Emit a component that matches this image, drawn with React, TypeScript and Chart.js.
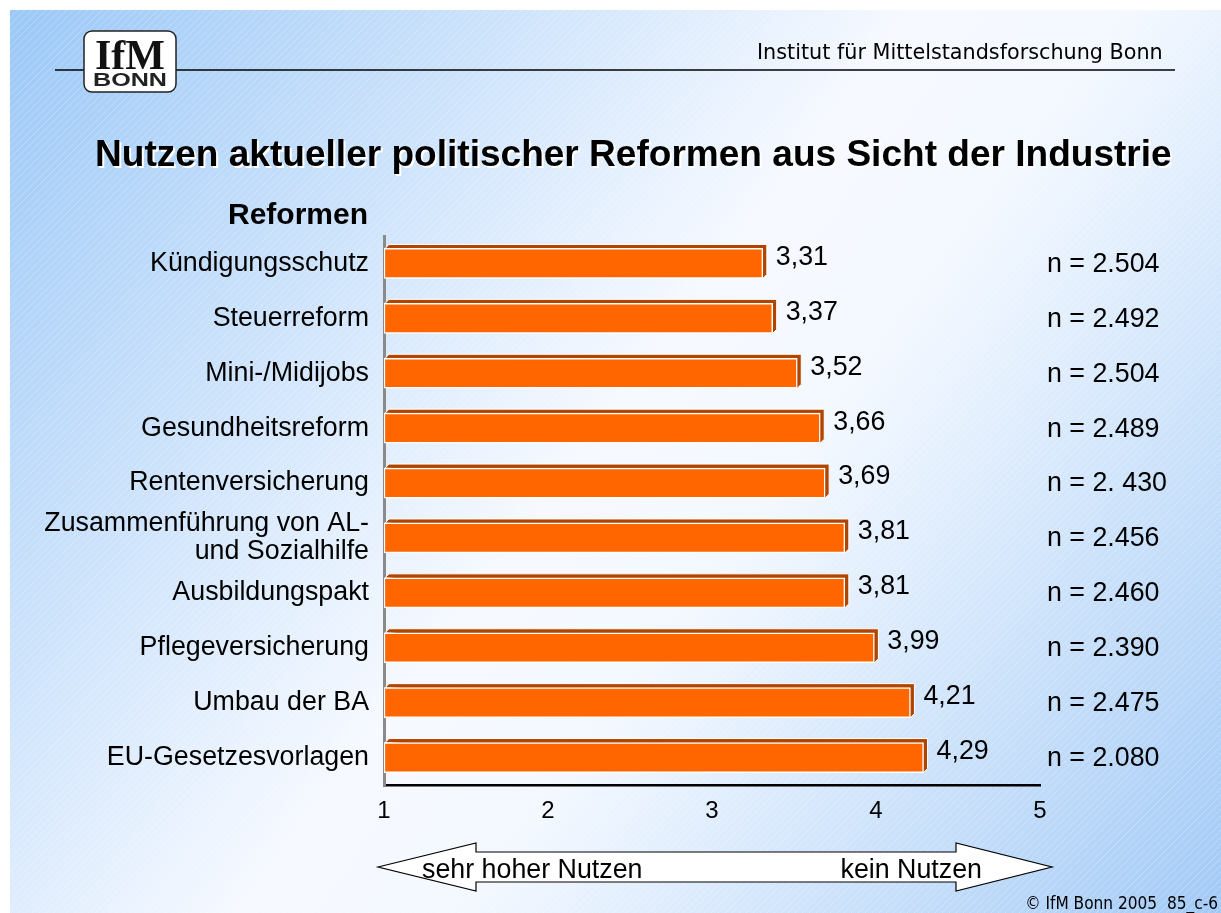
import React, { useEffect, useRef } from 'react';
import { Chart, registerables } from 'chart.js';

Chart.register(...registerables);

const categories: (string | string[])[] = [
  'Kündigungsschutz',
  'Steuerreform',
  'Mini-/Midijobs',
  'Gesundheitsreform',
  'Rentenversicherung',
  ['Zusammenführung von AL-', 'und Sozialhilfe'],
  'Ausbildungspakt',
  'Pflegeversicherung',
  'Umbau der BA',
  'EU-Gesetzesvorlagen',
];
const values = [3.31, 3.37, 3.52, 3.66, 3.69, 3.81, 3.81, 3.99, 4.21, 4.29];
const sampleSizes = [
  'n = 2.504',
  'n = 2.492',
  'n = 2.504',
  'n = 2.489',
  'n = 2. 430',
  'n = 2.456',
  'n = 2.460',
  'n = 2.390',
  'n = 2.475',
  'n = 2.080',
];
const axisMin = 1;
const axisMax = 5;
const axisStep = 1;

const headerText = 'Institut für Mittelstandsforschung Bonn';
const titleText = 'Nutzen aktueller politischer Reformen aus Sicht der Industrie';
const axisTitleText = 'Reformen';
const leftArrowText = 'sehr hoher Nutzen';
const rightArrowText = 'kein Nutzen';
const footerText = '© IfM Bonn 2005  85_c-6';

const SANS = '"Liberation Sans", Arial, Helvetica, sans-serif';
const VERD = '"DejaVu Sans", Verdana, Tahoma, sans-serif';
const VERD_C = '"DejaVu Sans Condensed", "DejaVu Sans", sans-serif';
const SERIF = '"Liberation Serif", "DejaVu Serif", serif';
const LABEL_SIZE = 26.8;

function fitSize(ctx: CanvasRenderingContext2D, text: string, weight: string, family: string, target: number) {
  ctx.font = `${weight} 100px ${family}`;
  const w = ctx.measureText(text).width;
  return (100 * target) / w;
}

const backgroundPlugin = {
  id: 'slideBackground',
  beforeDraw(chart: any) {
    const { ctx, width, height } = chart;
    ctx.save();
    ctx.fillStyle = '#ffffff';
    ctx.fillRect(0, 0, width, height);
    const g = ctx.createLinearGradient(10, 10, width, height);
    g.addColorStop(0, '#9bc8f7');
    g.addColorStop(0.48, '#f6f9ff');
    g.addColorStop(0.6, '#f3f8ff');
    g.addColorStop(1, '#a2caf6');
    ctx.fillStyle = g;
    ctx.fillRect(10, 10, width - 10, height - 10);
    ctx.beginPath();
    ctx.rect(10, 10, width - 10, height - 10);
    ctx.clip();
    ctx.strokeStyle = 'rgba(255,255,255,0.25)';
    ctx.lineWidth = 1;
    for (let k = -height; k < width; k += 7) {
      ctx.beginPath();
      ctx.moveTo(k, height);
      ctx.lineTo(k + height, 0);
      ctx.stroke();
    }
    ctx.restore();
  },
};

const extrusionPlugin = {
  id: 'barExtrusion',
  beforeDatasetsDraw(chart: any) {
    const { ctx, chartArea } = chart;
    const meta = chart.getDatasetMeta(0);
    const d = 4;
    ctx.save();
    meta.data.forEach((bar: any) => {
      const { x, y, base, height } = bar.getProps(['x', 'y', 'base', 'height'], true);
      const left = Math.max(base, chartArea.left);
      const top = y - height / 2;
      const bottom = y + height / 2;
      ctx.beginPath();
      ctx.moveTo(left + 1, top);
      ctx.lineTo(left + 1 + d, top - d);
      ctx.lineTo(x + d, top - d);
      ctx.lineTo(x + d, bottom - d);
      ctx.lineTo(x, bottom);
      ctx.closePath();
      ctx.fillStyle = '#b04500';
      ctx.fill();
      ctx.strokeStyle = '#ffffff';
      ctx.lineWidth = 1;
      ctx.stroke();
    });
    ctx.restore();
  },
  afterDatasetsDraw(chart: any) {
    const { ctx } = chart;
    const meta = chart.getDatasetMeta(0);
    ctx.save();
    ctx.fillStyle = '#000';
    ctx.textBaseline = 'middle';
    meta.data.forEach((bar: any, i: number) => {
      const { x, y } = bar.getProps(['x', 'y'], true);
      ctx.font = `${LABEL_SIZE}px ${SANS}`;
      ctx.textAlign = 'left';
      ctx.fillText(values[i].toFixed(2).replace('.', ','), x + 13, y - 6);
      ctx.fillText(sampleSizes[i], 1047, y + 1);
    });
    ctx.restore();
  },
};

const decorationPlugin = {
  id: 'slideDecoration',
  afterDraw(chart: any) {
    const { ctx } = chart;
    ctx.save();
    // header line
    ctx.strokeStyle = '#000';
    ctx.lineWidth = 1.5;
    ctx.beginPath();
    ctx.moveTo(55, 70);
    ctx.lineTo(1175, 70);
    ctx.stroke();
    // header text
    ctx.fillStyle = '#000';
    ctx.textBaseline = 'alphabetic';
    ctx.textAlign = 'left';
    const hs = fitSize(ctx, headerText, '', VERD, 406);
    ctx.font = `${hs}px ${VERD}`;
    ctx.fillText(headerText, 757, 59);
    // logo box
    ctx.beginPath();
    ctx.roundRect(84, 31, 92, 61, 8);
    ctx.fillStyle = '#ffffff';
    ctx.fill();
    ctx.strokeStyle = '#222';
    ctx.lineWidth = 1.5;
    ctx.stroke();
    ctx.fillStyle = '#111';
    ctx.textAlign = 'center';
    const ls = fitSize(ctx, 'IfM', 'bold', SERIF, 76);
    ctx.font = `bold ${Math.min(ls, 42)}px ${SERIF}`;
    ctx.fillText('IfM', 130, 69);
    ctx.font = `bold 19px ${SANS}`;
    ctx.fillStyle = '#222';
    ctx.save();
    ctx.translate(130, 86);
    const bw = ctx.measureText('BONN').width;
    ctx.scale(74 / bw, 1);
    ctx.fillText('BONN', 0, 0);
    ctx.restore();
    // title
    const ts = fitSize(ctx, titleText, 'bold', SANS, 1077);
    ctx.font = `bold ${ts}px ${SANS}`;
    ctx.textAlign = 'left';
    ctx.shadowColor = '#ffffff';
    ctx.shadowOffsetX = 2;
    ctx.shadowOffsetY = 2;
    ctx.shadowBlur = 0;
    ctx.fillStyle = '#000';
    ctx.fillText(titleText, 95, 166);
    ctx.shadowColor = 'rgba(0,0,0,0)';
    ctx.shadowOffsetX = 0;
    ctx.shadowOffsetY = 0;
    // axis title
    ctx.font = `bold 30px ${SANS}`;
    ctx.fillText(axisTitleText, 228, 224);
    // arrow
    ctx.beginPath();
    ctx.moveTo(378, 867);
    ctx.lineTo(476, 843);
    ctx.lineTo(476, 852);
    ctx.lineTo(956, 852);
    ctx.lineTo(956, 843);
    ctx.lineTo(1052, 867);
    ctx.lineTo(956, 891);
    ctx.lineTo(956, 882);
    ctx.lineTo(476, 882);
    ctx.lineTo(476, 891);
    ctx.closePath();
    ctx.fillStyle = '#ffffff';
    ctx.fill();
    ctx.strokeStyle = '#000';
    ctx.lineWidth = 1.2;
    ctx.stroke();
    ctx.fillStyle = '#000';
    ctx.font = `${LABEL_SIZE}px ${SANS}`;
    ctx.textAlign = 'left';
    ctx.fillText(leftArrowText, 422, 878);
    ctx.textAlign = 'right';
    ctx.fillText(rightArrowText, 982, 878);
    // footer
    const fs = fitSize(ctx, footerText, '', VERD_C, 193);
    ctx.font = `${fs}px ${VERD_C}`;
    ctx.textAlign = 'right';
    ctx.fillText(footerText, 1218, 909);
    ctx.restore();
  },
};

export default function App() {
  const ref = useRef<HTMLCanvasElement | null>(null);
  useEffect(() => {
    document.body.style.margin = '0';
    const canvas = ref.current!;
    const chart = new Chart(canvas, {
      type: 'bar',
      data: {
        labels: categories as any,
        datasets: [
          {
            data: values,
            base: axisMin,
            backgroundColor: '#ff6600',
            borderColor: '#ffffff',
            borderWidth: 1.5,
            borderSkipped: false,
            barThickness: 30,
          },
        ],
      },
      options: {
        indexAxis: 'y',
        animation: false,
        responsive: false,
        devicePixelRatio: 1,
        layout: { padding: { left: 0, right: 181, top: 236, bottom: 0 } },
        plugins: {
          legend: { display: false },
          tooltip: { enabled: false },
          title: { display: false },
        },
        scales: {
          x: {
            min: axisMin,
            max: axisMax,
            ticks: {
              stepSize: axisStep,
              color: '#000',
              font: { family: SANS, size: 24 },
              padding: 4,
            },
            grid: { display: false },
            border: { color: '#000', width: 2.5 },
            afterFit: (s: any) => {
              s.height = 128;
            },
          },
          y: {
            ticks: {
              color: '#000',
              font: { family: SANS, size: LABEL_SIZE, lineHeight: 1.05 },
              padding: 7,
              autoSkip: false,
            },
            grid: { display: false },
            border: { color: '#8a8a8a', width: 3 },
            afterFit: (s: any) => {
              s.width = 384;
            },
          },
        },
      } as any,
      plugins: [backgroundPlugin, extrusionPlugin, decorationPlugin],
    });
    return () => chart.destroy();
  }, []);
  return (
    <div style={{ position: 'fixed', left: 0, top: 0, width: 1221, height: 913 }}>
      <canvas ref={ref} width={1221} height={913} style={{ width: 1221, height: 913, display: 'block' }} />
    </div>
  );
}
